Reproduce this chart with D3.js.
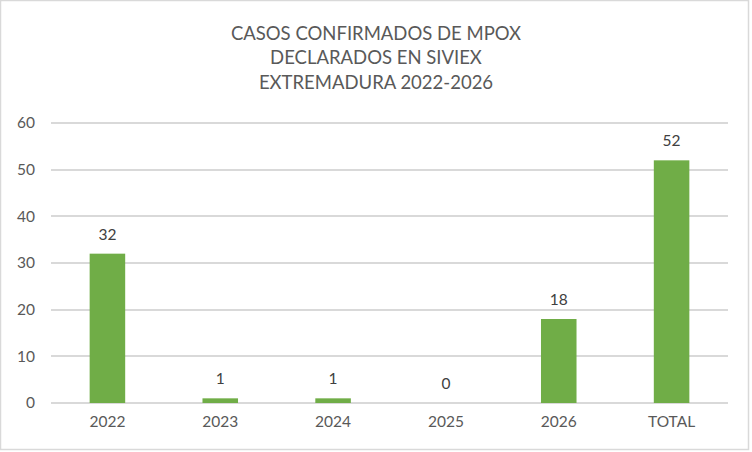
<!DOCTYPE html>
<html><head><meta charset="utf-8">
<script src="https://cdn.jsdelivr.net/npm/d3@7/dist/d3.min.js"></script>
<style>body{margin:0;background:#fff}svg{display:block}</style>
</head><body>
<script>
const categories = ["2022","2023","2024","2025","2026","TOTAL"];
const values = [32,1,1,0,18,52];
const yTicks = [0,10,20,30,40,50,60];
const titleLines = ["CASOS CONFIRMADOS DE MPOX","DECLARADOS EN SIVIEX","EXTREMADURA 2022-2026"];

const W = 752, H = 452;
const font = "Lato, 'Open Sans', sans-serif";
const svg = d3.select("body").append("svg").attr("width", W).attr("height", H);
svg.append("rect").attr("x",0.5).attr("y",0.5).attr("width",748).attr("height",449)
  .attr("fill","#fff").attr("stroke","#d9d9d9").attr("stroke-width",1.5);

const x = d3.scaleBand().domain(categories).range([51,728]).paddingInner(0.685).paddingOuter(0.3425);
const y = d3.scaleLinear().domain([0,60]).range([403,123]);

// gridlines
svg.append("g").selectAll("line").data(yTicks).join("line")
  .attr("x1",51).attr("x2",728).attr("y1",d=>Math.round(y(d))).attr("y2",d=>Math.round(y(d)))
  .attr("stroke","#d9d9d9").attr("stroke-width",2);

// y axis labels
const yAxis = d3.axisLeft(y).tickValues(yTicks).tickSize(0).tickPadding(0);
const ga = svg.append("g").attr("transform","translate(35,0)").call(yAxis);
ga.select(".domain").remove();
ga.selectAll("text").attr("font-family",font).attr("font-size",15.5).attr("fill","#595959");

// x axis labels
const xAxis = d3.axisBottom(x).tickSize(0).tickPadding(0);
const gx = svg.append("g").attr("transform","translate(0,416)").call(xAxis);
gx.select(".domain").remove();
gx.selectAll("text").attr("font-family",font).attr("font-size",15.5).attr("fill","#595959");

// bars
svg.append("g").selectAll("rect").data(values).join("rect")
  .attr("x",(d,i)=>x(categories[i])).attr("width",x.bandwidth())
  .attr("y",d=>y(d)).attr("height",d=>y(0)-y(d)).attr("fill","#70AD47");

// data labels
svg.append("g").selectAll("text").data(values).join("text")
  .attr("x",(d,i)=>x(categories[i])+x.bandwidth()/2).attr("y",d=>y(d)-14)
  .attr("text-anchor","middle").attr("font-family",font).attr("font-size",15.5).attr("fill","#404040")
  .text(d=>d);

// title
svg.append("g").selectAll("text").data(titleLines).join("text")
  .attr("x",376).attr("y",(d,i)=>40+i*24.3).attr("text-anchor","middle")
  .attr("font-family",font).attr("font-size",18.5).attr("fill","#595959").text(d=>d);
</script>
</body></html>
